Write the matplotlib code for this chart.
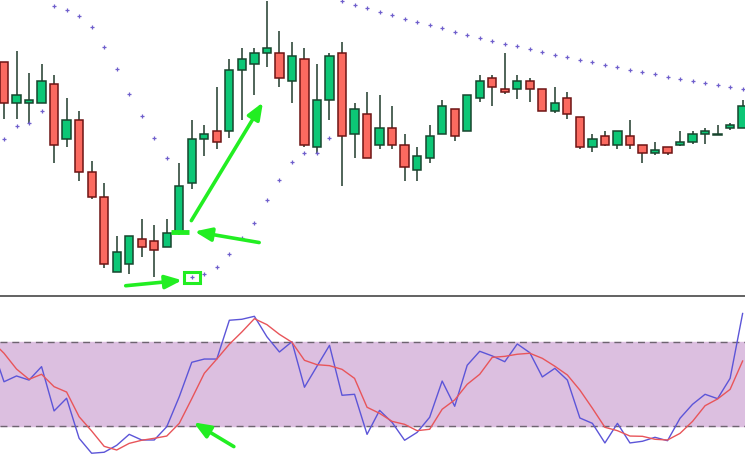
import numpy as np
import matplotlib
matplotlib.use("Agg")
import matplotlib.pyplot as plt
from matplotlib.patches import Rectangle

# 价格数据 (无坐标轴, 单位任意)
opens  = [238, 197, 197, 197, 216, 161, 180, 128, 103, 28, 36, 61, 59, 53, 67, 117, 161, 169, 169, 230,
          236, 247, 247, 219, 241, 153, 200, 247, 166, 186, 155, 172, 155, 130, 142, 166, 191, 169, 202, 222,
          211, 211, 219, 211, 189, 202, 183, 153, 164, 155, 164, 155, 147, 153, 155, 158, 166, 165, 172, 172]
closes = [197, 205, 200, 219, 155, 180, 128, 103, 36, 48, 64, 53, 50, 67, 114, 161, 166, 158, 230, 241,
          247, 252, 222, 244, 155, 200, 244, 164, 191, 142, 172, 155, 133, 144, 164, 194, 164, 205, 219, 213,
          208, 219, 211, 189, 197, 186, 153, 161, 155, 169, 155, 147, 150, 147, 158, 166, 169, 166, 175, 194]
highs  = [238, 249, 227, 236, 225, 202, 189, 139, 117, 64, 64, 81, 75, 81, 137, 180, 175, 213, 241, 252,
          252, 299, 269, 258, 252, 236, 247, 258, 197, 208, 205, 194, 166, 153, 175, 200, 191, 205, 225, 225,
          247, 225, 222, 211, 213, 208, 183, 166, 169, 169, 180, 155, 158, 153, 169, 169, 172, 175, 177, 200]
lows   = [181, 181, 177, 197, 137, 153, 119, 101, 32, 28, 26, 43, 23, 53, 65, 111, 144, 151, 162, 180,
          205, 233, 213, 197, 153, 147, 180, 114, 142, 142, 151, 151, 119, 119, 137, 166, 159, 169, 198, 194,
          206, 201, 198, 189, 187, 181, 151, 148, 154, 151, 151, 137, 145, 145, 154, 156, 156, 165, 170, 172]

# 抛物线SAR
sar = [161, 174, 177, 189, 294, 290, 284, 273, 253, 231, 206, 184, 162, 142, np.nan, 23, 26, 33, 46, 62,
       77, 100, 120, 138, 147, 147, 162, 299, 295, 292, 288, 285, 281, 278, 275, 272, 268, 265, 262, 259,
       256, 254, 251, 248, 245, 243, 240, 238, 235, 233, 230, 228, 226, 223, 221, 219, 217, 215, 213, 211]

# 随机指标 %K / %D (从 -1 开始)
stoch_k = [77.7, 51.6, 55.7, 52.8, 62.3, 30.9, 39.9, 11.5, 0.9, 1.6, 6.5, 14.3, 10.3, 10.3, 19.7, 41.0,
           65.4, 67.7, 67.7, 95.2, 95.9, 98.0, 83.5, 72.7, 80.0, 47.7, 62.6, 77.4, 42.0, 42.7, 14.3,
           31.3, 22.8, 10.1, 15.7, 26.4, 52.1, 34.2, 63.3, 73.2, 69.9, 65.8, 78.4, 72.2, 55.0, 61.1,
           52.8, 25.9, 22.1, 8.2, 22.1, 8.2, 9.4, 12.2, 9.8, 25.7, 35.6, 42.7, 39.6, 54.0, 100.0]
stoch_d = [80.6, 71.8, 60.6, 53.3, 56.9, 48.1, 44.3, 26.8, 16.7, 5.8, 3.2, 7.9, 10.1, 11.5, 13.1, 22.1,
           39.6, 57.6, 67.7, 78.2, 86.9, 96.3, 92.1, 85.2, 79.6, 66.8, 63.7, 63.0, 60.4, 54.0, 33.5,
           29.2, 23.5, 21.4, 16.9, 17.9, 32.1, 38.7, 49.8, 56.9, 68.9, 69.6, 71.1, 71.8, 68.2, 62.6,
           56.4, 45.7, 32.8, 19.3, 16.9, 13.1, 12.9, 10.8, 10.3, 15.0, 23.5, 34.6, 39.4, 46.2, 66.3]
levels = [20, 80]

W, H = 745, 461
fig = plt.figure(figsize=(W / 100, H / 100), dpi=100)
ax = fig.add_axes([0, 1 - 295 / H, 1, 295 / H])
ax2 = fig.add_axes([0, 0, 1, 165 / H])

x = np.arange(len(opens))
o = np.array(opens); c = np.array(closes)
up = c >= o

# 蜡烛图
ax.vlines(x, lows, highs, color="#1f3a2b", linewidth=1.1, zorder=2)
body_col = np.where(up, "#0cc776", "#fb6a60")
edge_col = np.where(up, "#17452d", "#6e1414")
ax.bar(x, np.maximum(np.abs(c - o), 1), bottom=np.minimum(o, c), width=0.66,
       color=body_col, edgecolor=edge_col, linewidth=1.1, zorder=3)
ax.plot(x, sar, linestyle="none", marker="+", markersize=3.2, markeredgewidth=0.9,
        color="#6f5fcc", zorder=4)

ax.set_xlim(-0.32, 59.19)
ax.set_ylim(5, 300)
ax.axis("off")

# 绿色箭头和标记
green = "#22ee22"
arrow = dict(arrowstyle="-|>,head_length=1.0,head_width=0.4", color=green, lw=2.6)
ax.annotate("", xy=(14.45, 20), xytext=(9.5, 14), arrowprops=arrow, zorder=6)
ax.annotate("", xy=(15.0, 69), xytext=(20.6, 57), arrowprops=arrow, zorder=6)
ax.annotate("", xy=(20.8, 200), xytext=(14.85, 77), arrowprops=arrow, zorder=6)
ax.add_patch(Rectangle((14.4, 17.5), 1.25, 10.5, fill=False, edgecolor=green, lw=2.2, zorder=6))
ax.plot([13.3, 14.75], [68, 68], color=green, lw=3.5, solid_capstyle="butt", zorder=6)

# 分隔线
fig.add_artist(plt.Line2D([0, 1], [1 - 295.5 / H] * 2, color="#555555", lw=1.3))

# 随机指标
xs = np.arange(-1, len(opens))
ax2.axhspan(levels[0], levels[1], color="#dcbfe0", zorder=0)
for lv in levels:
    ax2.axhline(lv, color="#6e6470", lw=1.0, dashes=(5, 3.5), zorder=1)
ax2.plot(xs, stoch_k, color="#5c55d8", lw=1.0, zorder=3)
ax2.plot(xs, stoch_d, color="#e8555a", lw=1.0, zorder=3)
ax2.annotate("", xy=(14.95, 23.8), xytext=(18.55, 4.6), arrowprops=arrow, zorder=6)
ax2.set_xlim(-0.32, 59.19)
ax2.set_ylim(-4.6, 112.4)
ax2.axis("off")

fig.savefig("out.png", dpi=100)
